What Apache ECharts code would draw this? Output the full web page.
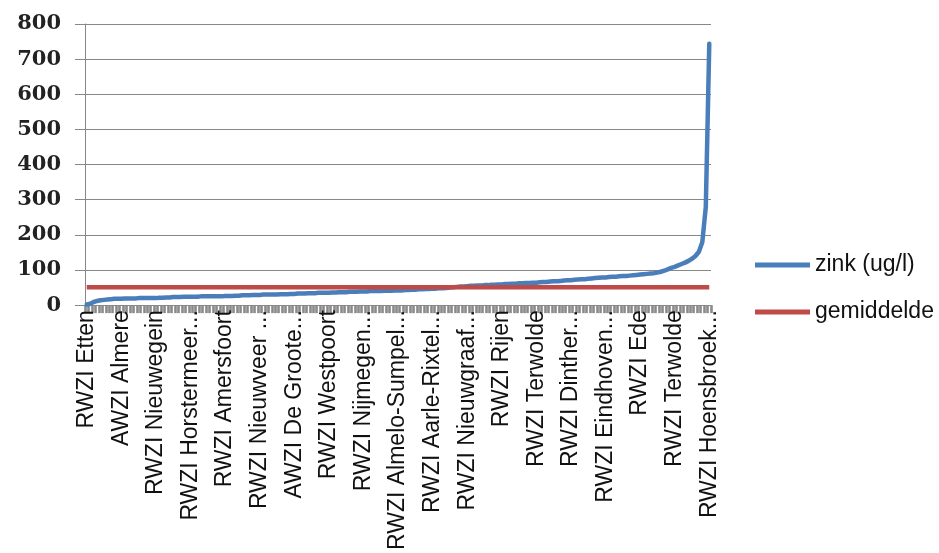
<!DOCTYPE html>
<html>
<head>
<meta charset="utf-8">
<script src="https://cdn.jsdelivr.net/npm/echarts@6/dist/echarts.min.js"></script>
<style>
  html, body { margin: 0; padding: 0; background: #ffffff; }
  #chart { width: 939px; height: 553px; }
</style>
</head>
<body>
<div id="chart"></div>
<script>
// Treatment plants, sorted by zinc concentration (ascending)
const stations = [
  "RWZI Etten", "RWZI Kampen", "RWZI Harderwijk", "RWZI Zwolle", "RWZI Utrecht", "RWZI Lelystad", "RWZI Dronten", "RWZI Zeewolde", "RWZI Amsterdam-West", "RWZI Huizen",
  "AWZI Almere", "RWZI Alkmaar", "RWZI Amstelveen", "RWZI Apeldoorn", "RWZI Arnhem", "RWZI Assen", "RWZI Asten", "RWZI Beemster", "RWZI Bennekom", "RWZI Beverwijk",
  "RWZI Nieuwegein", "RWZI Bleiswijk", "RWZI Bodegraven", "RWZI Boxtel", "RWZI Breskens", "RWZI Brummen", "RWZI Bunnik", "RWZI Culemborg", "RWZI Dalfsen", "RWZI De Bilt",
  "RWZI Horstermeer...", "RWZI Deventer", "RWZI Dieren", "RWZI Dodewaard", "RWZI Dokhaven", "RWZI Dordrecht", "RWZI Drachten", "RWZI Echten", "RWZI Elburg", "RWZI Emmen",
  "RWZI Amersfoort", "RWZI Enschede", "RWZI Epe", "RWZI Ermelo", "RWZI Garmerwolde", "RWZI Gouda", "RWZI Groesbeek", "RWZI Haaksbergen", "RWZI Hapert", "RWZI Hardenberg",
  "RWZI Nieuwveer ...", "RWZI Harnaschpolder", "RWZI Heerenveen", "RWZI Heerde", "RWZI Hengelo", "RWZI Hilversum", "RWZI Holten", "RWZI Hoogezand", "RWZI Hoorn", "RWZI Houtrust",
  "AWZI De Groote...", "RWZI Katwijk", "RWZI Kralingseveer", "RWZI Leeuwarden", "RWZI Leiden-Noord", "RWZI Lichtenvoorde", "RWZI Limmel", "RWZI Lisse", "RWZI Meppel", "RWZI Nijverdal",
  "RWZI Westpoort", "RWZI Olburgen", "RWZI Oldenzaal", "RWZI Oss", "RWZI Ootmarsum", "RWZI Panheel", "RWZI Papendrecht", "RWZI Putten", "RWZI Raalte", "RWZI Renkum",
  "RWZI Nijmegen...", "RWZI Rhenen", "RWZI Ridderkerk", "RWZI Roermond", "RWZI Schiedam", "RWZI Simpelveld", "RWZI Sint-Oedenrode", "RWZI Sneek", "RWZI Soest", "RWZI Steenwijk",
  "RWZI Almelo-Sumpel...", "RWZI Tiel", "RWZI Tilburg-Noord", "RWZI Vinkel", "RWZI Venlo", "RWZI Veghel", "RWZI Venray", "RWZI Vlissingen", "RWZI Wageningen", "RWZI Weert",
  "RWZI Aarle-Rixtel...", "RWZI Winterswijk", "RWZI Woerden", "RWZI Zaandam-Oost", "RWZI Zeist", "RWZI Zevenaar", "RWZI Zutphen", "RWZI Zwanenburg", "RWZI Zwijndrecht", "RWZI Aalsmeer",
  "RWZI Nieuwgraaf...", "RWZI Abcoude", "RWZI Baarn", "RWZI Barneveld", "RWZI Beesd", "RWZI Bath", "RWZI Dinxperlo", "RWZI Eelde", "RWZI Elst", "RWZI Ewijk",
  "RWZI Rijen", "RWZI Gennep", "RWZI Goes", "RWZI Harlingen", "RWZI Hattem", "RWZI Hulst", "RWZI IJsselstein", "RWZI Kaatsheuvel", "RWZI Loosdrecht", "RWZI Middelburg",
  "RWZI Terwolde", "RWZI Montfoort", "RWZI Ommen", "RWZI Oosterhout", "RWZI Riel", "RWZI Ruurlo", "RWZI Scheemda", "RWZI Sleen", "RWZI Susteren", "RWZI Terneuzen",
  "RWZI Dinther...", "RWZI Tollebeek", "RWZI Uithoorn", "RWZI Varsseveld", "RWZI Veendam", "RWZI Vianen", "RWZI Vollenhove", "RWZI Waalwijk", "RWZI Wervershoof", "RWZI Westerbork",
  "RWZI Eindhoven...", "RWZI Wolvega", "RWZI Zoetermeer", "RWZI Zuidhorn", "RWZI Den Helder", "RWZI Edam", "RWZI Purmerend", "RWZI Everstekoog", "RWZI Gorinchem", "RWZI Hellevoetsluis",
  "RWZI Ede", "RWZI Maastricht", "RWZI Heerlen", "RWZI Kerkrade", "RWZI Stein", "RWZI Weurt", "RWZI Druten", "RWZI Groenlo", "RWZI Eibergen", "RWZI Neede",
  "RWZI Terwolde", "RWZI Lemmer", "RWZI Joure", "RWZI Franeker", "RWZI Dokkum", "RWZI Burgum", "RWZI Grou", "RWZI Akkrum", "RWZI Oosterwolde", "RWZI Gorredijk",
  "RWZI Hoensbroek..."
];

// Zinc concentration per plant (ug/l)
const zinc = [
  2, 4, 9, 12, 14, 15, 16, 17,
  18, 18, 18, 19, 19, 19, 19, 20, 20, 20, 20, 20, 20, 21, 21,
  22, 22, 23, 23, 23, 24, 24, 24, 24, 24, 25, 25, 25, 25, 25, 25, 25, 26, 26, 26, 27,
  27, 28, 28, 28, 29, 29, 29, 30, 30, 30, 30, 30, 31, 31, 31, 32, 32, 33,
  33, 33, 34, 34, 34, 35, 35, 35, 35, 36, 36, 37, 37, 37, 38, 38,
  38, 39, 39, 39, 40, 40, 40, 40, 41, 41, 41, 42, 42, 42, 43, 43, 44, 44, 45, 45, 46, 46, 47, 47, 48, 48, 49, 50,
  51, 52, 53, 53, 54, 55, 55, 56, 56, 57, 57, 58, 58, 59, 59,
  60, 60, 61, 61, 62, 62, 63, 63, 64, 64, 65, 66, 66, 67, 68, 68, 69,
  70, 71, 71, 72, 73, 74, 74, 75, 76, 77, 78,
  79, 79, 80, 81, 81, 82, 83, 83, 84, 85,
  86, 87, 88, 89, 90, 91, 93, 95,
  98, 102, 106, 109, 113, 117, 121,
  126, 132, 140, 152,
  180, 280, 744
];

// Average zinc concentration (ug/l)
const averageZinc = 51;
const average = stations.map(() => averageZinc);

const seriesNames = ["zink (ug/l)", "gemiddelde"];
const yTicks = { min: 0, max: 800, interval: 100 };

const textFont = "'Liberation Sans', 'Noto Sans', sans-serif";
const axisGray = "#878787";

const chart = echarts.init(document.getElementById("chart"), null, { renderer: "canvas" });

chart.setOption({
  backgroundColor: "#ffffff",
  animation: false,
  grid: { left: 85, right: 228, top: 24, bottom: 245, containLabel: false },
  legend: {
    orient: "vertical",
    left: 750,
    top: 248,
    icon: "rect",
    itemWidth: 55,
    itemHeight: 5,
    itemGap: 23,
    data: seriesNames,
    textStyle: { fontFamily: textFont, fontSize: 23, color: "#111", lineHeight: 24 }
  },
  xAxis: {
    type: "category",
    data: stations,
    boundaryGap: true,
    axisLine: { lineStyle: { color: axisGray, width: 1 } },
    axisTick: { show: true, interval: 0, length: 8, lineStyle: { color: "#8a8a8a", width: 2.6 } },
    axisLabel: {
      interval: 9,
      rotate: 90,
      margin: 5,
      fontFamily: textFont,
      fontSize: 23,
      color: "#111"
    },
    splitLine: { show: false }
  },
  yAxis: {
    type: "value",
    min: yTicks.min,
    max: yTicks.max,
    interval: yTicks.interval,
    axisLine: { show: true, lineStyle: { color: axisGray, width: 1 } },
    axisTick: { show: true, length: 10, lineStyle: { color: axisGray, width: 1 } },
    axisLabel: {
      margin: 24,
      fontFamily: "'DejaVu Serif', serif",
      fontWeight: "bold",
      fontSize: 21,
      color: "#222"
    },
    splitLine: { show: true, lineStyle: { color: axisGray, width: 1 } }
  },
  series: [
    {
      name: seriesNames[0],
      type: "line",
      data: zinc,
      showSymbol: false,
      symbol: "none",
      lineStyle: { color: "#4a7ebb", width: 4.5, cap: "round", join: "round" },
      itemStyle: { color: "#4a7ebb" }
    },
    {
      name: seriesNames[1],
      type: "line",
      data: average,
      showSymbol: false,
      symbol: "none",
      lineStyle: { color: "#be4b48", width: 4.5 },
      itemStyle: { color: "#be4b48" }
    }
  ]
});
</script>
</body>
</html>
